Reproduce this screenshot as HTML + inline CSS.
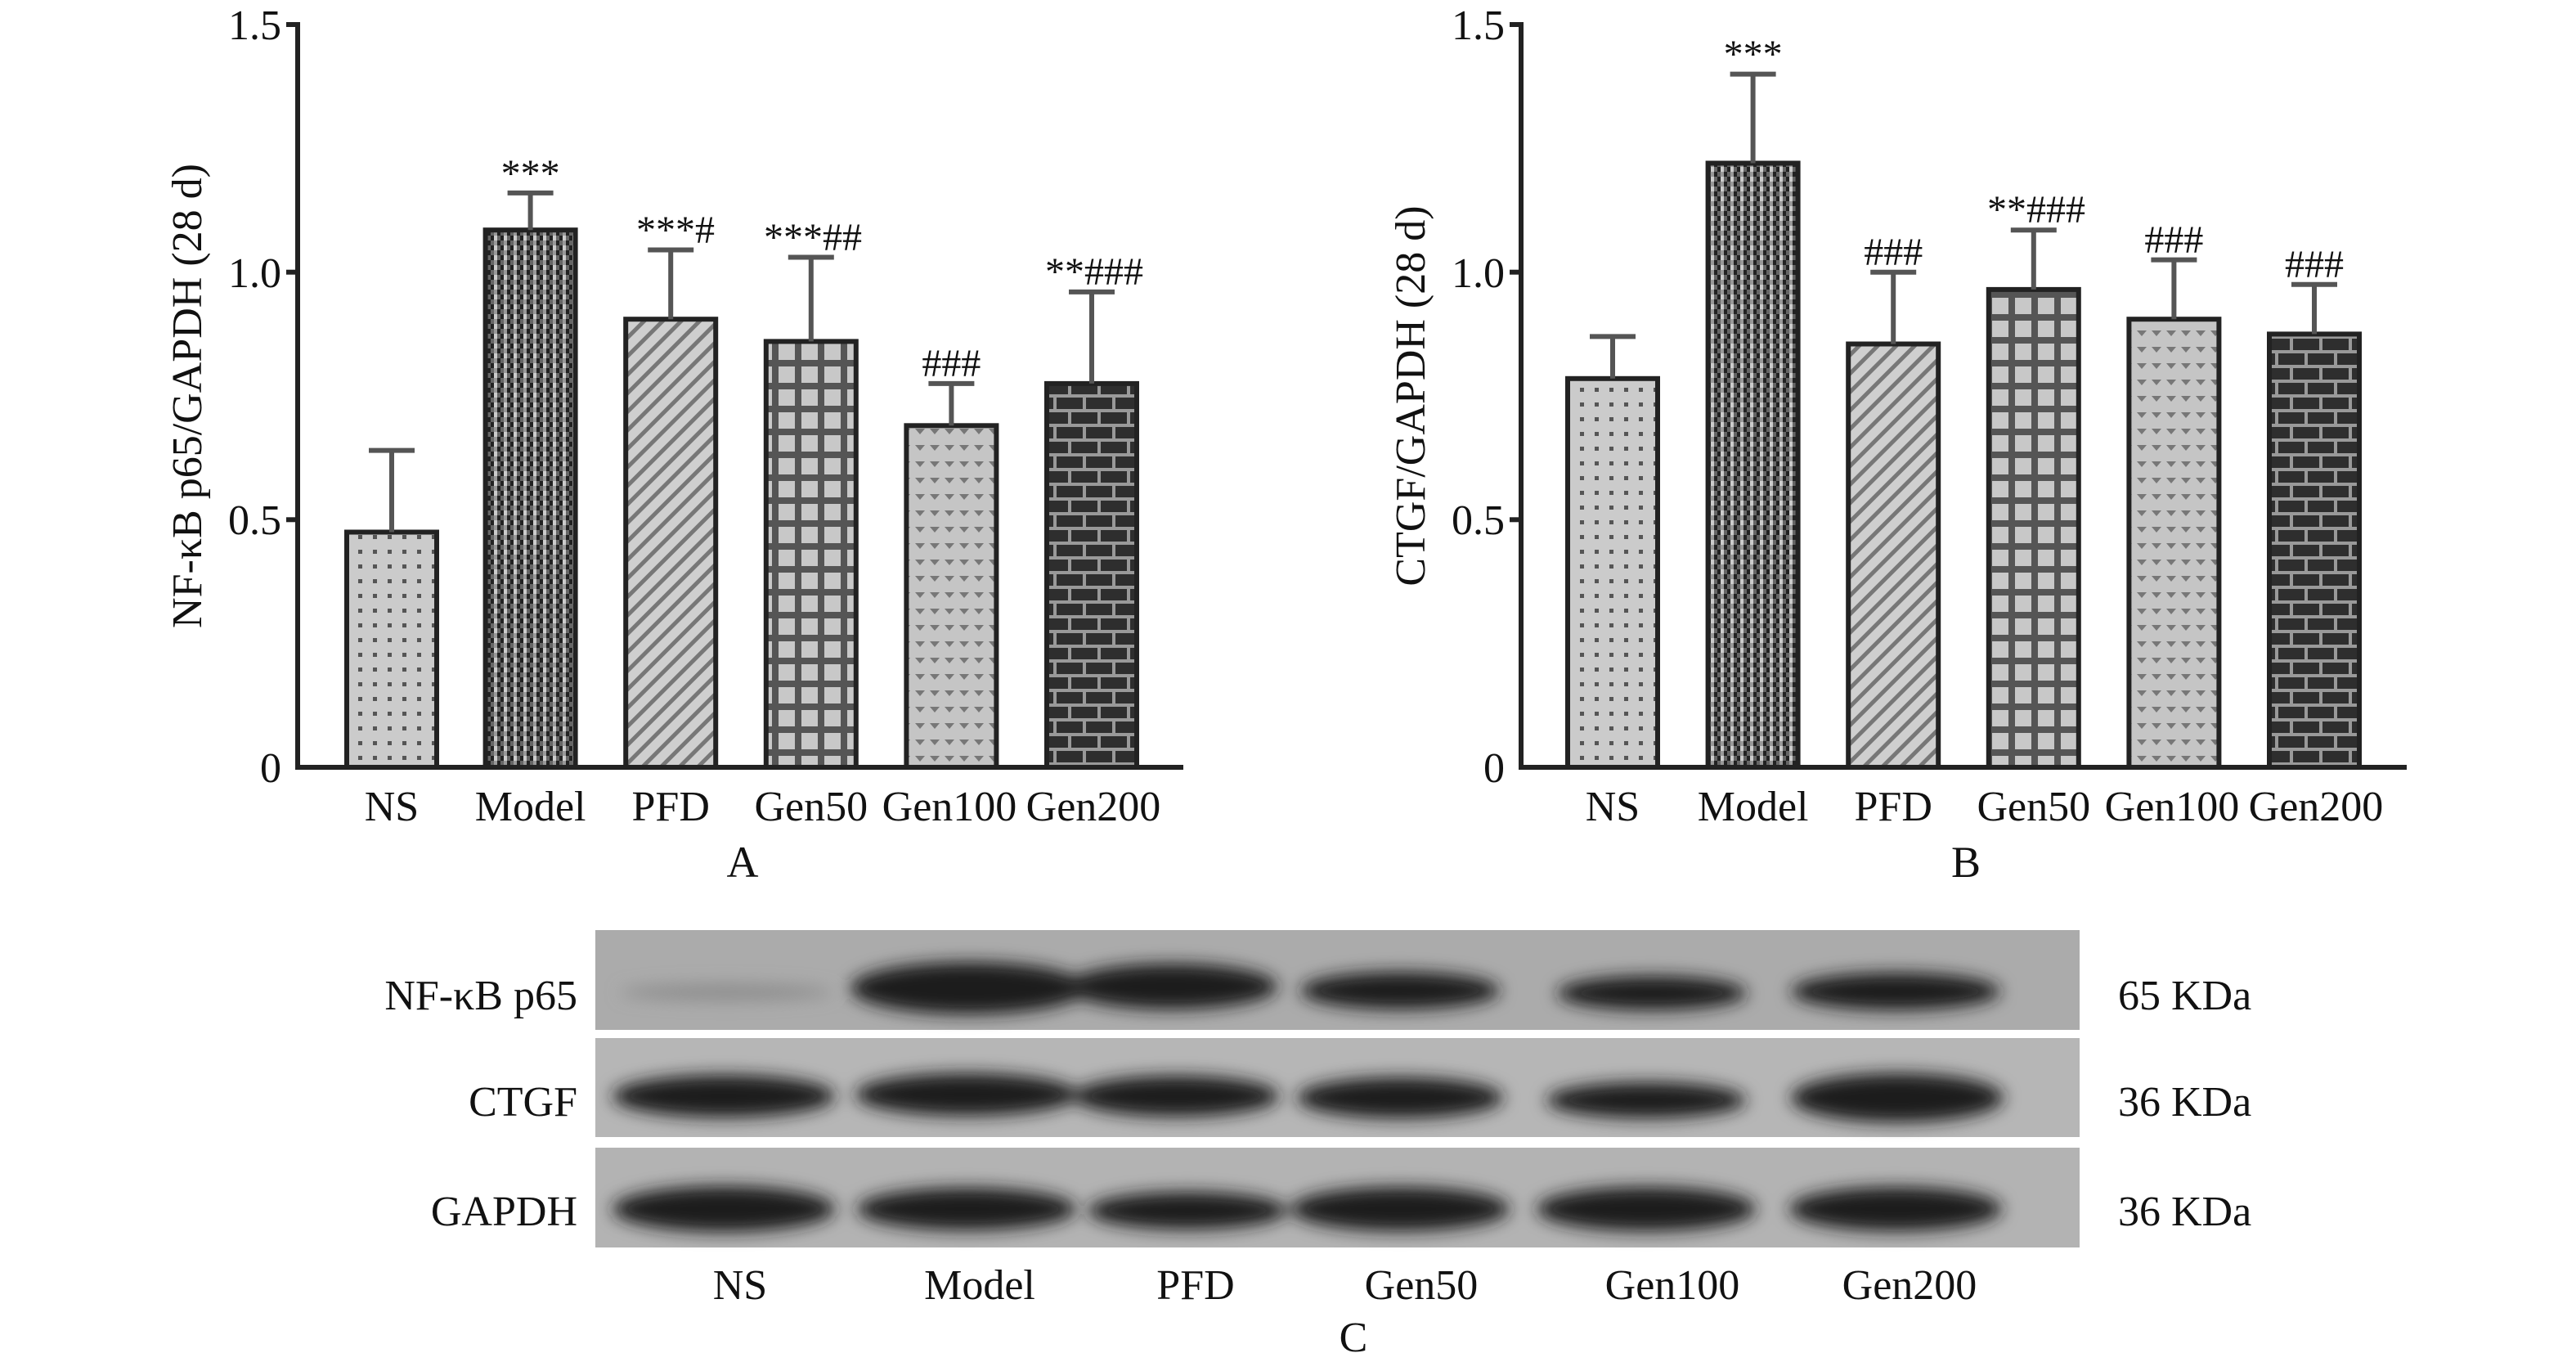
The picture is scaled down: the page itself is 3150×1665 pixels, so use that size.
<!DOCTYPE html>
<html><head><meta charset="utf-8"><style>
html,body{margin:0;padding:0;background:#fff}
svg{display:block}
text{font-family:"Liberation Serif",serif;fill:#111}
</style></head><body>
<svg width="3150" height="1665" viewBox="0 0 3150 1665" xmlns="http://www.w3.org/2000/svg">
<defs>
<pattern id="pNS" width="18" height="18" patternUnits="userSpaceOnUse"><rect width="18" height="18" fill="#cbcbcb"/><rect x="6" y="6" width="5" height="5" fill="#555"/></pattern>
<pattern id="pMod" width="12" height="12" patternUnits="userSpaceOnUse"><rect width="12" height="12" fill="#666"/><rect width="4" height="6" fill="#222"/><rect x="4" width="4" height="6" fill="#ccc"/><rect x="8" y="6" width="4" height="6" fill="#222"/><rect y="6" x="4" width="4" height="6" fill="#999"/></pattern>
<pattern id="pPFD" width="16" height="16" patternUnits="userSpaceOnUse" patternTransform="rotate(-45)"><rect width="16" height="16" fill="#cfcfcf"/><rect width="16" height="5" fill="#777"/></pattern>
<pattern id="pG50" width="28" height="28" patternUnits="userSpaceOnUse" x="0" y="0"><rect width="28" height="28" fill="#c8c8c8"/><rect x="20" width="8" height="28" fill="#555"/><rect y="20" width="28" height="8" fill="#555"/></pattern>
<pattern id="pG100" width="18" height="20" patternUnits="userSpaceOnUse"><rect width="18" height="20" fill="#c5c5c5"/><path d="M3 4 L15 4 L9 11 Z" fill="#777"/></pattern>
<pattern id="pG200" width="36" height="36" patternUnits="userSpaceOnUse"><rect width="36" height="36" fill="#2e2e2e"/><rect y="14" width="36" height="4" fill="#999"/><rect y="32" width="36" height="4" fill="#999"/><rect x="10" y="0" width="4" height="14" fill="#999"/><rect x="28" y="18" width="4" height="14" fill="#999"/></pattern>
<filter id="bl" x="-30%" y="-100%" width="160%" height="300%"><feGaussianBlur stdDeviation="10"/></filter>
</defs>

<!-- Panel A -->
<g stroke="#222" stroke-width="6" fill="none">
<line x1="364" y1="27" x2="364" y2="941"/><line x1="361" y1="938" x2="1447" y2="938"/>
<line x1="350" y1="30" x2="364" y2="30"/><line x1="350" y1="332.7" x2="364" y2="332.7"/><line x1="350" y1="635.3" x2="364" y2="635.3"/>
</g>
<g font-size="52" text-anchor="end">
<text x="344" y="956">0</text><text x="344" y="653">0.5</text><text x="344" y="351">1.0</text><text x="344" y="48">1.5</text>
</g>
<text transform="translate(246,484) rotate(-90)" font-size="52" text-anchor="middle">NF-κB p65/GAPDH (28 d)</text>
<g stroke="#222" stroke-width="6">
<rect x="424" y="650.5" width="110" height="287.5" fill="url(#pNS)"/>
<rect x="593.6" y="281.2" width="110" height="656.8" fill="url(#pMod)"/>
<rect x="765.2" y="390.2" width="110" height="547.8" fill="url(#pPFD)"/>
<rect x="936.8" y="417.4" width="110" height="520.6" fill="url(#pG50)"/>
<rect x="1108.4" y="520.3" width="110" height="417.7" fill="url(#pG100)"/>
<rect x="1280" y="468.9" width="110" height="469.1" fill="url(#pG200)"/>
</g>
<g stroke="#555" stroke-width="6">
<line x1="479" y1="650.5" x2="479" y2="550.6"/><line x1="451" y1="550.6" x2="507" y2="550.6"/>
<line x1="648.6" y1="281.2" x2="648.6" y2="235.9"/><line x1="620.6" y1="235.9" x2="676.6" y2="235.9"/>
<line x1="820.2" y1="390.2" x2="820.2" y2="305.5"/><line x1="792.2" y1="305.5" x2="848.2" y2="305.5"/>
<line x1="991.8" y1="417.4" x2="991.8" y2="314.5"/><line x1="963.8" y1="314.5" x2="1019.8" y2="314.5"/>
<line x1="1163.4" y1="520.3" x2="1163.4" y2="468.9"/><line x1="1135.4" y1="468.9" x2="1191.4" y2="468.9"/>
<line x1="1335" y1="468.9" x2="1335" y2="356.9"/><line x1="1307" y1="356.9" x2="1363" y2="356.9"/>
</g>
<g font-size="48" text-anchor="middle">
<text x="648.6" y="228">***</text><text x="826" y="297">***#</text><text x="994" y="306">***##</text><text x="1163.4" y="460">###</text><text x="1338" y="348">**###</text>
</g>
<g font-size="52" text-anchor="middle">
<text x="479" y="1003">NS</text><text x="648.6" y="1003">Model</text><text x="820.2" y="1003">PFD</text><text x="991.8" y="1003">Gen50</text><text x="1161" y="1003">Gen100</text><text x="1337" y="1003">Gen200</text>
<text x="908" y="1072" font-size="54">A</text>
</g>

<!-- Panel B -->
<g stroke="#222" stroke-width="6" fill="none">
<line x1="1860" y1="27" x2="1860" y2="941"/><line x1="1857" y1="938" x2="2943" y2="938"/>
<line x1="1846" y1="30" x2="1860" y2="30"/><line x1="1846" y1="332.7" x2="1860" y2="332.7"/><line x1="1846" y1="635.3" x2="1860" y2="635.3"/>
</g>
<g font-size="52" text-anchor="end">
<text x="1840" y="956">0</text><text x="1840" y="653">0.5</text><text x="1840" y="351">1.0</text><text x="1840" y="48">1.5</text>
</g>
<text transform="translate(1742,484) rotate(-90)" font-size="52" text-anchor="middle">CTGF/GAPDH (28 d)</text>
<g stroke="#222" stroke-width="6">
<rect x="1917" y="462.8" width="110" height="475.2" fill="url(#pNS)"/>
<rect x="2088.6" y="199.5" width="110" height="738.5" fill="url(#pMod)"/>
<rect x="2260.2" y="420.5" width="110" height="517.5" fill="url(#pPFD)"/>
<rect x="2431.8" y="353.9" width="110" height="584.1" fill="url(#pG50)"/>
<rect x="2603.4" y="390.2" width="110" height="547.8" fill="url(#pG100)"/>
<rect x="2775" y="408.4" width="110" height="529.6" fill="url(#pG200)"/>
</g>
<g stroke="#555" stroke-width="6">
<line x1="1972" y1="462.8" x2="1972" y2="411.4"/><line x1="1944" y1="411.4" x2="2000" y2="411.4"/>
<line x1="2143.6" y1="199.5" x2="2143.6" y2="90.6"/><line x1="2115.6" y1="90.6" x2="2171.6" y2="90.6"/>
<line x1="2315.2" y1="420.5" x2="2315.2" y2="332.7"/><line x1="2287.2" y1="332.7" x2="2343.2" y2="332.7"/>
<line x1="2486.8" y1="353.9" x2="2486.8" y2="281.2"/><line x1="2458.8" y1="281.2" x2="2514.8" y2="281.2"/>
<line x1="2658.4" y1="390.2" x2="2658.4" y2="317.6"/><line x1="2630.4" y1="317.6" x2="2686.4" y2="317.6"/>
<line x1="2830" y1="408.4" x2="2830" y2="347.8"/><line x1="2802" y1="347.8" x2="2858" y2="347.8"/>
</g>
<g font-size="48" text-anchor="middle">
<text x="2143.6" y="82">***</text><text x="2315.2" y="324">###</text><text x="2490" y="272">**###</text><text x="2658.4" y="309">###</text><text x="2830" y="339">###</text>
</g>
<g font-size="52" text-anchor="middle">
<text x="1972" y="1003">NS</text><text x="2143.6" y="1003">Model</text><text x="2315.2" y="1003">PFD</text><text x="2486.8" y="1003">Gen50</text><text x="2656" y="1003">Gen100</text><text x="2832" y="1003">Gen200</text>
<text x="2404" y="1072" font-size="54">B</text>
</g>

<!-- Panel C blot -->
<rect x="728" y="1137" width="1815" height="122" fill="#ababab"/>
<rect x="728" y="1269" width="1815" height="121" fill="#b6b6b6"/>
<rect x="728" y="1403" width="1815" height="122" fill="#b3b3b3"/>
<g filter="url(#bl)" fill="#1a1a1a">
<ellipse cx="888" cy="1213" rx="130" ry="10" fill="#8d8d8d"/>
<ellipse cx="1185" cy="1208" rx="145" ry="32"/>
<ellipse cx="1432" cy="1206" rx="130" ry="28"/>
<ellipse cx="1712" cy="1211" rx="122" ry="23"/>
<ellipse cx="2020" cy="1214" rx="116" ry="21"/>
<ellipse cx="2318" cy="1212" rx="128" ry="23"/>
<ellipse cx="885" cy="1340" rx="136" ry="26"/>
<ellipse cx="1182" cy="1338" rx="136" ry="26"/>
<ellipse cx="1438" cy="1340" rx="126" ry="25"/>
<ellipse cx="1712" cy="1342" rx="126" ry="25"/>
<ellipse cx="2013" cy="1345" rx="122" ry="22"/>
<ellipse cx="2320" cy="1342" rx="130" ry="30"/>
<ellipse cx="885" cy="1478" rx="136" ry="28"/>
<ellipse cx="1182" cy="1478" rx="134" ry="26"/>
<ellipse cx="1452" cy="1480" rx="122" ry="23"/>
<ellipse cx="1712" cy="1478" rx="134" ry="27"/>
<ellipse cx="2013" cy="1478" rx="134" ry="27"/>
<ellipse cx="2318" cy="1478" rx="130" ry="27"/>
</g>
<g font-size="52" text-anchor="end">
<text x="706" y="1234">NF-κB p65</text><text x="706" y="1364">CTGF</text><text x="706" y="1498">GAPDH</text>
</g>
<g font-size="52">
<text x="2590" y="1234">65 KDa</text><text x="2590" y="1364">36 KDa</text><text x="2590" y="1498">36 KDa</text>
</g>
<g font-size="52" text-anchor="middle">
<text x="905" y="1588">NS</text><text x="1198" y="1588">Model</text><text x="1462" y="1588">PFD</text><text x="1738" y="1588">Gen50</text><text x="2045" y="1588">Gen100</text><text x="2335" y="1588">Gen200</text>
<text x="1655" y="1652">C</text>
</g>
</svg>
</body></html>
